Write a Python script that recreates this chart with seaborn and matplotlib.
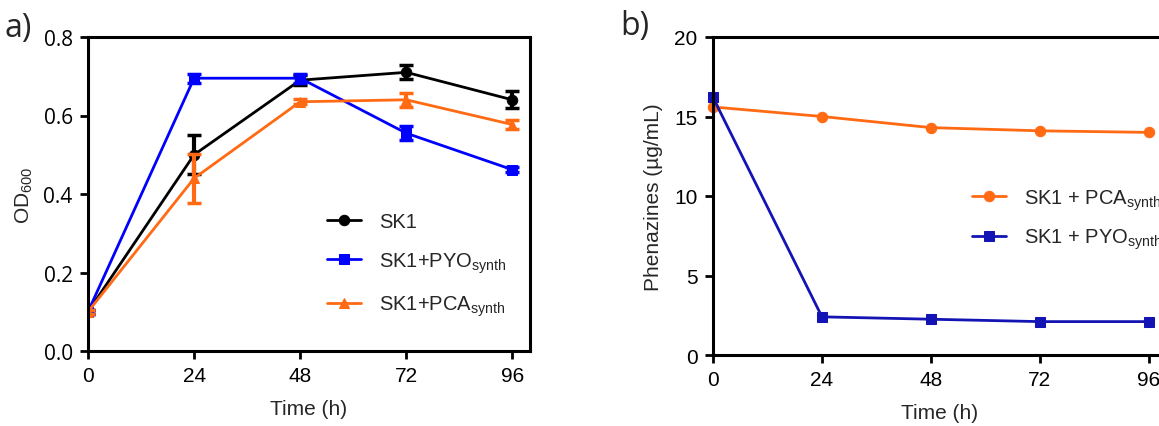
import matplotlib
matplotlib.use("Agg")
import matplotlib.pyplot as plt
import seaborn as sns
import pandas as pd

sns.set_theme(style="white")
plt.rcParams['font.family'] = ['Liberation Sans', 'DejaVu Sans']
plt.rcParams['mathtext.fontset'] = 'custom'
plt.rcParams['mathtext.rm'] = 'Liberation Sans'
plt.rcParams['mathtext.it'] = 'Liberation Sans'
plt.rcParams['mathtext.default'] = 'regular'

# ---- data ----
time = [0, 24, 48, 72, 96]
x_ticks = [0, 24, 48, 72, 96]

a_sk1 = [0.10, 0.50, 0.69, 0.71, 0.64]
a_sk1_err = [0.005, 0.05, 0.012, 0.018, 0.022]
a_pyo = [0.10, 0.695, 0.695, 0.555, 0.462]
a_pyo_err = [0.005, 0.012, 0.012, 0.018, 0.006]
a_pca = [0.10, 0.44, 0.635, 0.64, 0.577]
a_pca_err = [0.005, 0.062, 0.006, 0.018, 0.012]
a_labels = ["SK1", "SK1+PYO$_{synth}$", "SK1+PCA$_{synth}$"]
a_yticks = [0.0, 0.2, 0.4, 0.6, 0.8]

b_pca = [15.6, 15.0, 14.3, 14.1, 14.0]
b_pyo = [16.2, 2.4, 2.25, 2.1, 2.1]
b_labels = ["SK1 + PCA$_{synth}$", "SK1 + PYO$_{synth}$"]
b_yticks = [0, 5, 10, 15, 20]

black = "#000000"
blue = "#0000ff"
orange = "#ff6a13"
darkblue = "#1414b4"

W, H = 1159, 427
fig = plt.figure(figsize=(W / 100, H / 100), dpi=100)

axA = fig.add_axes([88 / W, 1 - 352 / H, 442 / W, 314 / H])
axB = fig.add_axes([713 / W, 1 - 356 / H, 454 / W, 318 / H])

fs = 15
lfs = 14.5
lw = 2.0

# ---- panel a ----
series_a = [(a_sk1, a_sk1_err, black, "o", a_labels[0]),
            (a_pyo, a_pyo_err, blue, "s", a_labels[1]),
            (a_pca, a_pca_err, orange, "^", a_labels[2])]
for vals, errs, col, mk, lab in series_a:
    df = pd.DataFrame({"t": time, "v": vals})
    sns.lineplot(data=df, x="t", y="v", ax=axA, color=col, marker=mk,
                 markersize=7.5, markeredgecolor=col, linewidth=lw, label=lab)
    axA.errorbar(time, vals, yerr=errs, fmt="none", ecolor=col,
                 elinewidth=3, capsize=5, capthick=2.5)

axA.set_xlim(0, 100)
axA.set_ylim(0, 0.8)
axA.set_xticks(x_ticks)
axA.set_yticks(a_yticks)
axA.set_yticklabels([f"{v:.1f}" for v in a_yticks], fontfamily="Open Sans")
axA.set_xlabel("Time (h)", fontsize=fs, labelpad=10)
axA.set_ylabel("OD$_{600}$", fontsize=fs, labelpad=6)
for s in axA.spines.values():
    s.set_visible(True)
    s.set_linewidth(2.2)
    s.set_color("black")
axA.tick_params(direction="out", length=6, width=2, colors="black",
                labelsize=fs, left=True, bottom=True, pad=5)
axA.legend(loc="upper left", bbox_to_anchor=(0.5, 0.50), frameon=False,
           fontsize=lfs, labelspacing=0.95, handlelength=1.7,
           handletextpad=0.9)
fig.text(4 / W, 1 - 29 / H, "a)", fontsize=23, fontfamily="Open Sans",
         va="center", ha="left")

# ---- panel b ----
series_b = [(b_pca, orange, "o", b_labels[0]),
            (b_pyo, darkblue, "s", b_labels[1])]
for vals, col, mk, lab in series_b:
    df = pd.DataFrame({"t": time, "v": vals})
    sns.lineplot(data=df, x="t", y="v", ax=axB, color=col, marker=mk,
                 markersize=7.5, markeredgecolor=col, linewidth=lw, label=lab,
                 clip_on=False)

axB.set_xlim(0, 100)
axB.set_ylim(0, 20)
axB.set_xticks(x_ticks)
axB.set_yticks(b_yticks)
axB.set_xlabel("Time (h)", fontsize=fs, labelpad=10)
axB.set_ylabel("Phenazines (\u00b5g/mL)", fontsize=fs, labelpad=8)
for s in axB.spines.values():
    s.set_visible(True)
    s.set_linewidth(2.2)
    s.set_color("black")
axB.tick_params(direction="out", length=6, width=2, colors="black",
                labelsize=fs, left=True, bottom=True, pad=5)
axB.legend(loc="upper left", bbox_to_anchor=(0.53, 0.585), frameon=False,
           fontsize=lfs, labelspacing=0.75, handlelength=1.7,
           handletextpad=0.9)
fig.text(620 / W, 1 - 27 / H, "b)", fontsize=23, fontfamily="Open Sans",
         va="center", ha="left")

fig.savefig("out.png", dpi=100)
